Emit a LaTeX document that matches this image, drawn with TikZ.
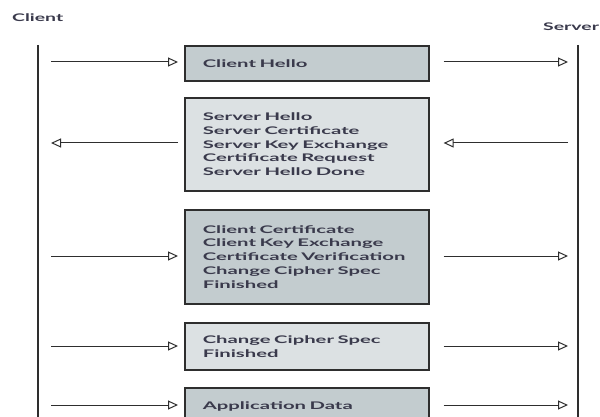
\documentclass[tikz,border=0pt]{standalone}
\usepackage{fontspec}
\setmainfont{Lato}[FakeStretch=1.85]
\newfontfamily\boxfont{Lato}[FakeStretch=1.93]
\usetikzlibrary{arrows.meta}
\definecolor{dk}{HTML}{C3CCCF}
\definecolor{lt}{HTML}{DCE1E3}
\definecolor{txt}{HTML}{3A3A4C}
\definecolor{ln}{HTML}{2E2E2E}
\tikzset{
  msgbox/.style={draw=ln, line width=1.6pt, anchor=north west, minimum width=244pt,
    text width=208pt, inner xsep=18pt, align=left, text=txt,
    font=\boxfont\fontsize{10.5}{13.8}\selectfont\bfseries},
  life/.style={draw=ln, line width=1.8pt},
  msg/.style={draw=ln, line width=1pt, -{Triangle[open, length=10pt, width=9pt, line width=1pt]}},
  lbl/.style={font=\fontsize{10.5}{12}\selectfont\bfseries, text=txt, inner sep=0pt, anchor=base west}
}
\begin{document}
\begin{tikzpicture}[x=1pt,y=-1pt]
\useasboundingbox (0,0) rectangle (600,417);
\node[lbl] (client) at (12,22) {Client};
\node[lbl] (server) at (543,31) {Server};
\coordinate (ct) at (38,45);
\coordinate (cb) at (38,420);
\coordinate (st) at (578,45);
\coordinate (sb) at (578,420);
\draw[life] (ct) -- (cb);
\draw[life] (st) -- (sb);
\node[msgbox, fill=dk, minimum height=35pt] (b1) at (184,45) {Client Hello};
\node[msgbox, fill=lt, minimum height=93pt] (b2) at (184,97) {Server Hello\\Server Certificate\\Server Key Exchange\\Certificate Request\\Server Hello Done};
\node[msgbox, fill=dk, minimum height=94pt] (b3) at (184,209) {Client Certificate\\Client Key Exchange\\Certificate Verification\\Change Cipher Spec\\Finished};
\node[msgbox, fill=lt, minimum height=47pt] (b4) at (184,322) {Change Cipher Spec\\Finished};
\node[msgbox, fill=dk, minimum height=37pt] (b5) at (184,387) {Application Data};
% arrows
\foreach \b/\y in {b1/62,b3/256,b4/346,b5/405}{
  \draw[msg, shorten <=13pt, shorten >=6pt] (38,\y) -- (\b.west |- 0,\y);
  \draw[msg, shorten <=14pt, shorten >=10pt] (\b.east |- 0,\y) -- (578,\y);
}
\draw[msg, shorten <=6pt, shorten >=13pt] (b2.west |- 0,143) -- (ct |- 0,143);
\draw[msg, shorten <=10pt, shorten >=14pt] (st |- 0,143) -- (b2.east |- 0,143);
\end{tikzpicture}
\end{document}
